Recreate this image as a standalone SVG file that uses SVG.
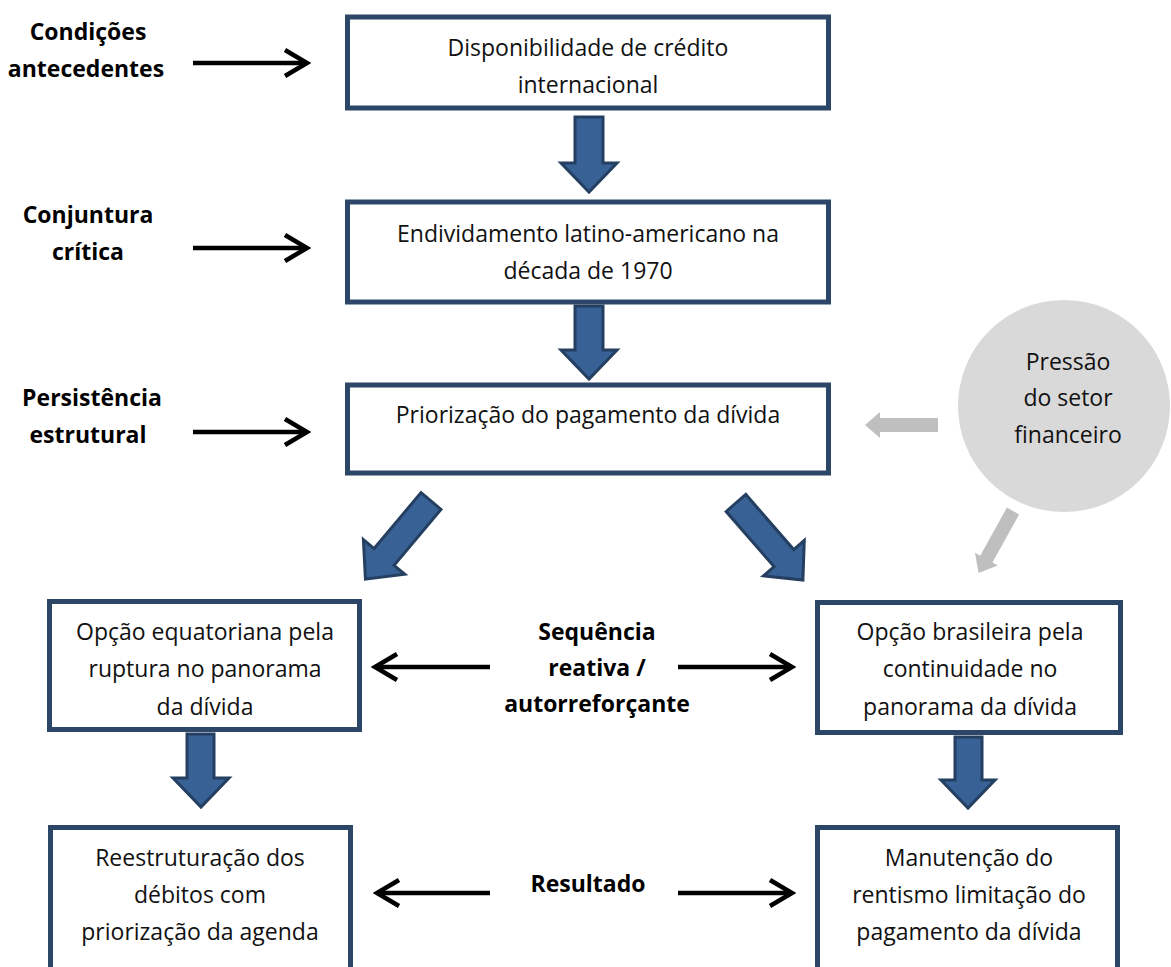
<svg xmlns="http://www.w3.org/2000/svg" width="1171" height="967" viewBox="0 0 1171 967">
<defs>
<style>
.box{fill:#fff;stroke:#2C4668;stroke-width:5}
.t{font-family:"Open Sans","Liberation Sans",sans-serif;font-size:23px;fill:#111;text-anchor:middle}
.b{font-family:"Open Sans","Liberation Sans",sans-serif;font-size:23px;font-weight:bold;fill:#000;text-anchor:middle}
.blk{fill:none;stroke:#000;stroke-width:4.5;marker-end:url(#chev)}
.blue{fill:#386196;stroke:#253F60;stroke-width:3;stroke-linejoin:miter}
.gray{fill:#BFBFBF;stroke:none}
</style>
<marker id="chev" markerUnits="userSpaceOnUse" viewBox="0 0 30 30" refX="26" refY="15" markerWidth="30" markerHeight="30" orient="auto">
<path d="M4,2 L26,15 L4,28" fill="none" stroke="#000" stroke-width="4.5"/>
</marker>
<path id="diag" d="M-13,0 H13 V73 H27 L0,102 L-27,73 H-13 Z"/>
</defs>
<rect width="1171" height="967" fill="#fff"/>

<g id="labels">
<text class="b" x="88" y="40">Condições</text>
<text class="b" x="86" y="77">antecedentes</text>
<text class="b" x="88" y="223">Conjuntura</text>
<text class="b" x="88" y="260">crítica</text>
<text class="b" x="92" y="406">Persistência</text>
<text class="b" x="88" y="443">estrutural</text>
<text class="b" x="597" y="640">Sequência</text>
<text class="b" x="597" y="676">reativa /</text>
<text class="b" x="597" y="712">autorreforçante</text>
<text class="b" x="588" y="892">Resultado</text>
</g>

<g id="node-credito">
<rect class="box" x="347.5" y="17" width="481" height="91"/>
<text class="t" x="588" y="56">Disponibilidade de crédito</text>
<text class="t" x="588" y="93">internacional</text>
</g>
<g id="node-endividamento">
<rect class="box" x="347.5" y="202" width="481" height="100"/>
<text class="t" x="588" y="242">Endividamento latino-americano na</text>
<text class="t" x="588" y="279">década de 1970</text>
</g>
<g id="node-priorizacao">
<rect class="box" x="347.5" y="385" width="481" height="88"/>
<text class="t" x="588" y="423">Priorização do pagamento da dívida</text>
</g>
<g id="node-pressao">
<circle cx="1064" cy="406" r="106" fill="#D9D9D9"/>
<text class="t" x="1068" y="370">Pressão</text>
<text class="t" x="1068" y="406">do setor</text>
<text class="t" x="1068" y="443">financeiro</text>
</g>
<g id="node-equatoriana">
<rect class="box" x="49.5" y="601.5" width="310" height="128"/>
<text class="t" x="205" y="640">Opção equatoriana pela</text>
<text class="t" x="205" y="677">ruptura no panorama</text>
<text class="t" x="205" y="715">da dívida</text>
</g>
<g id="node-brasileira">
<rect class="box" x="817.5" y="602.5" width="303" height="130"/>
<text class="t" x="970" y="640">Opção brasileira pela</text>
<text class="t" x="970" y="677">continuidade no</text>
<text class="t" x="970" y="715">panorama da dívida</text>
</g>
<g id="node-reestruturacao">
<rect class="box" x="50.5" y="827.5" width="300" height="200"/>
<text class="t" x="200" y="866">Reestruturação dos</text>
<text class="t" x="200" y="903">débitos com</text>
<text class="t" x="200" y="940">priorização da agenda</text>
</g>
<g id="node-manutencao">
<rect class="box" x="817.5" y="827.5" width="300" height="200"/>
<text class="t" x="969" y="866">Manutenção do</text>
<text class="t" x="969" y="903">rentismo limitação do</text>
<text class="t" x="969" y="940">pagamento da dívida</text>
</g>

<g id="connectors">
<path class="blk" d="M193,63 H307"/>
<path class="blk" d="M193,248 H307"/>
<path class="blk" d="M193,432 H307"/>
<path class="blk" d="M490,667 H375"/>
<path class="blk" d="M678,667 H792"/>
<path class="blk" d="M490,893 H377"/>
<path class="blk" d="M678,893 H792"/>
<path class="blue" d="M575,117 H603 V163 H617 L589,192 L561,163 H575 Z"/>
<path class="blue" d="M575,306 H603 V350 H617 L589,379 L561,350 H575 Z"/>
<use class="blue" href="#diag" transform="translate(431,501) rotate(40)"/>
<use class="blue" href="#diag" transform="translate(736,503) rotate(-41)"/>
<path class="blue" d="M187,734 H214 V778 H229 L201,807 L173,778 H187 Z"/>
<path class="blue" d="M955,737 H982 V780 H995 L968,808 L941,780 H955 Z"/>
<path class="gray" d="M938,418 H880 V412 L865,425 L880,438 V432 H938 Z"/>
<path class="gray" transform="translate(1013,511) rotate(29)" d="M-7,0 H7 V55 H13 L0,71 L-13,55 H-7 Z"/>
</g>
</svg>
